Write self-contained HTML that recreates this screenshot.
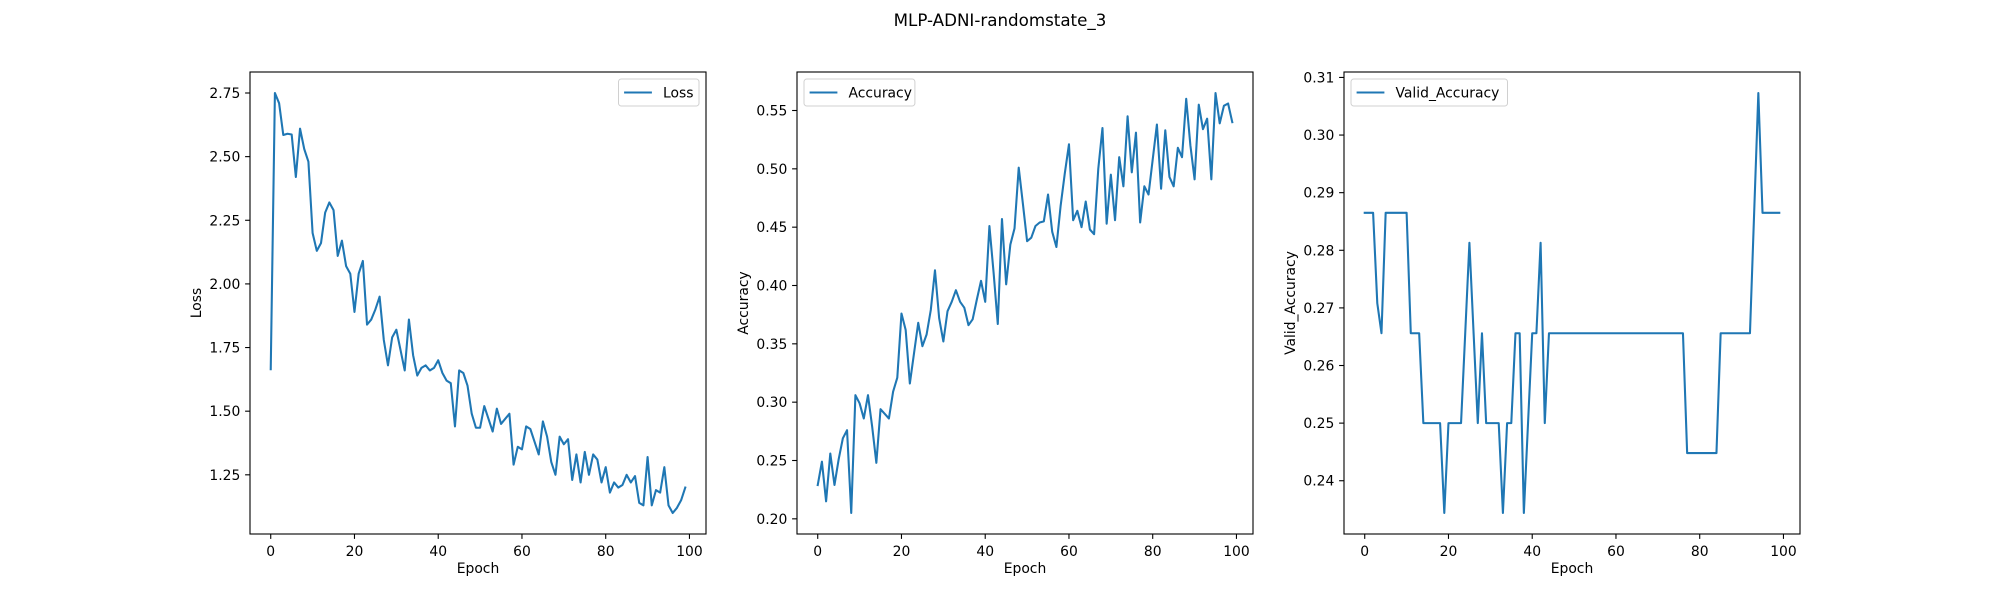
<!DOCTYPE html>
<html><head><meta charset="utf-8"><style>
html,body{margin:0;padding:0;background:#fff;}
svg{display:block;font-family:"DejaVu Sans","Liberation Sans",sans-serif;}
</style></head><body>
<svg id="fig" width="2000" height="600" viewBox="0 0 2000 600" xmlns="http://www.w3.org/2000/svg">
<rect width="2000" height="600" fill="#fff"/>
<text x="1000" y="26" font-size="16.7" text-anchor="middle" fill="#000">MLP-ADNI-randomstate_3</text>
</svg>
<script>
const epochs = Array.from({length:100},(_,i)=>i);
const lossValues = [1.665,2.75,2.71,2.585,2.59,2.587,2.42,2.61,2.53,2.48,2.20,2.13,2.16,2.28,2.32,2.29,2.11,2.17,2.07,2.04,1.89,2.04,2.09,1.84,1.86,1.90,1.95,1.78,1.68,1.79,1.82,1.74,1.66,1.86,1.72,1.64,1.67,1.68,1.66,1.67,1.70,1.65,1.62,1.61,1.44,1.66,1.65,1.60,1.49,1.435,1.435,1.52,1.47,1.42,1.51,1.45,1.47,1.49,1.29,1.36,1.35,1.44,1.43,1.38,1.33,1.46,1.40,1.30,1.25,1.40,1.37,1.39,1.23,1.33,1.22,1.34,1.25,1.33,1.31,1.22,1.28,1.18,1.22,1.20,1.21,1.25,1.22,1.245,1.14,1.13,1.32,1.13,1.19,1.18,1.28,1.13,1.10,1.12,1.15,1.20];
const accValues = [.229,.249,.215,.256,.229,.251,.269,.276,.205,.306,.299,.286,.306,.279,.248,.294,.290,.286,.309,.321,.376,.362,.316,.342,.368,.348,.358,.379,.413,.372,.352,.378,.386,.396,.386,.381,.366,.371,.388,.404,.386,.451,.411,.367,.457,.401,.435,.449,.501,.470,.438,.441,.451,.454,.455,.478,.446,.433,.468,.496,.521,.456,.464,.450,.472,.448,.444,.500,.535,.453,.495,.456,.510,.485,.545,.497,.531,.454,.485,.478,.508,.538,.483,.533,.493,.485,.518,.510,.560,.520,.491,.555,.534,.543,.491,.565,.539,.554,.556,.540];
const A=.2865,B=.2708,C=.2656,D=.25,E=.2344,F=.2813,G=.2448,H=.3073;
const validValues = [A,A,A,B,C,A,A,A,A,A,A,C,C,C,D,D,D,D,D,E,D,D,D,D,C,F,C,D,C,D,D,D,D,E,D,D,C,C,E,D,C,C,F,D,
 C,C,C,C,C,C,C,C,C,C,C,C,C,C,C,C,C,C,C,C,C,C,C,C,C,C,C,C,C,C,C,C,C,
 G,G,G,G,G,G,G,G,C,C,C,C,C,C,C,C,A,H,A,A,A,A,A];
const xTicks = [0,20,40,60,80,100];
const lossTicks = [1.25,1.50,1.75,2.00,2.25,2.50,2.75];
const accTicks = [0.20,0.25,0.30,0.35,0.40,0.45,0.50,0.55];
const validTicks = [0.24,0.25,0.26,0.27,0.28,0.29,0.30,0.31];

const NS="http://www.w3.org/2000/svg";
const svg=document.getElementById('fig');
function mk(tag,attrs,parent){const e=document.createElementNS(NS,tag);for(const k in attrs)e.setAttribute(k,attrs[k]);(parent||svg).appendChild(e);return e;}

function panel(key,x0,x1,ys,ticks,dec,label,legendRight){
  const y0=72,y1=534;
  const g=mk('g',{});
  
  
  const mn=Math.min(...ys),mx=Math.max(...ys),r=mx-mn;
  const lo=mn-0.05*r,hi=mx+0.05*r;
  const xlo=-4.95,xhi=103.95;
  const sx=v=>x0+(v-xlo)/(xhi-xlo)*(x1-x0);
  const sy=v=>y1-(v-lo)/(hi-lo)*(y1-y0);
  const pts=epochs.map((e,i)=>sx(e).toFixed(2)+','+sy(ys[i]).toFixed(2)).join(' ');
  const line=mk('polyline',{points:pts,fill:'none',stroke:'#1f77b4','stroke-width':2.08,'stroke-linejoin':'round','stroke-linecap':'square'},g);
  
  
  const fr=mk('rect',{x:x0,y:y0,width:x1-x0,height:y1-y0,fill:'none',stroke:'#000','stroke-width':1.1},g);
  
  
  xTicks.forEach(t=>{
    const X=sx(t);
    mk('line',{x1:X,x2:X,y1:y1,y2:y1+4.9,stroke:'#000','stroke-width':1.1},g);
    const tx=mk('text',{x:X,y:y1+22,'font-size':13.9,'text-anchor':'middle',fill:'#000'},g);
    tx.textContent=t;
    
    
  });
  ticks.forEach(t=>{
    const Y=sy(t);
    mk('line',{x1:x0-4.9,x2:x0,y1:Y,y2:Y,stroke:'#000','stroke-width':1.1},g);
    const tx=mk('text',{x:x0-9.7,y:Y+5,'font-size':13.9,'text-anchor':'end',fill:'#000'},g);
    tx.textContent=t.toFixed(dec);
    
    
  });
  const xl=mk('text',{x:(x0+x1)/2,y:y1+39,'font-size':13.9,'text-anchor':'middle',fill:'#000'},g);
  xl.textContent='Epoch';
  
  
  const lx=x0-49;
  const yl=mk('text',{x:lx,y:(y0+y1)/2,'font-size':13.9,'text-anchor':'middle',fill:'#000',transform:'rotate(-90 '+lx+' '+(y0+y1)/2+')'},g);
  yl.textContent=label;
  
  
  const tw=label.length*7.6;
  const w=5.6+27.8+11.1+tw+5.6, h=27;
  const lxp=legendRight? x1-7-w : x0+7;
  const lg=mk('g',{},g);
  
  
  mk('rect',{x:lxp,y:y0+7,width:w,height:h,rx:2.8,fill:'#fff','fill-opacity':0.8,stroke:'#d0d0d0','stroke-width':1},lg);
  mk('line',{x1:lxp+5.6,x2:lxp+5.6+27.8,y1:y0+7+h/2,y2:y0+7+h/2,stroke:'#1f77b4','stroke-width':2.08},lg);
  const lt=mk('text',{x:lxp+5.6+27.8+11.1,y:y0+7+h/2+5,'font-size':13.9,fill:'#000'},lg);
  lt.textContent=label;
  
  
}
panel('loss',250,706,lossValues,lossTicks,2,'Loss',true);
panel('accuracy',797,1253,accValues,accTicks,2,'Accuracy',false);
panel('valid-accuracy',1344,1800,validValues,validTicks,2,'Valid_Accuracy',false);
</script>
</body></html>
